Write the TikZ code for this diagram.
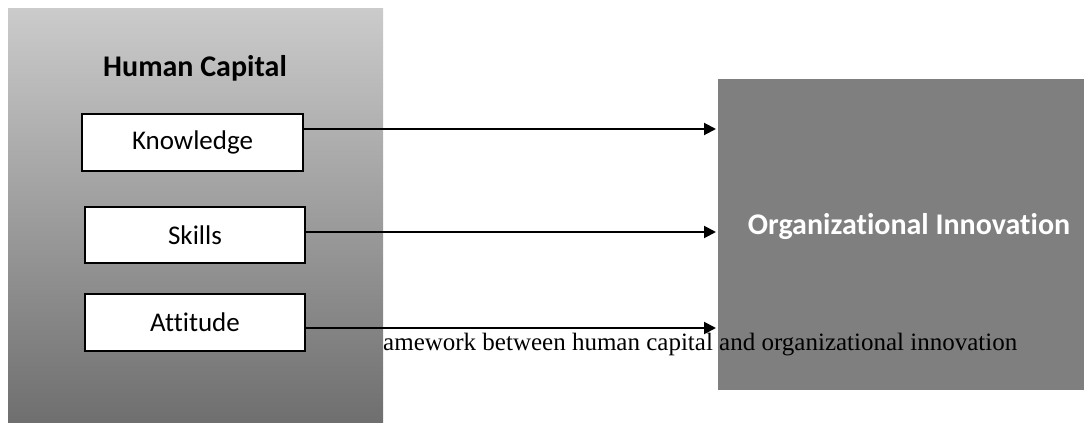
\documentclass[tikz,border=0pt]{standalone}
\usepackage{fontspec}
\setmainfont[Ligatures={NoCommon}]{Carlito}
\newfontfamily\capfont{Liberation Serif}
\usetikzlibrary{arrows.meta}
\definecolor{topgray}{HTML}{CBCBCB}
\definecolor{botgray}{HTML}{6F6F6F}
\definecolor{boxgray}{HTML}{7F7F7F}
\tikzset{
  itembox/.style={draw=black, line width=2pt, fill=white, inner sep=0pt, font=\fontsize{27}{32}\selectfont},
  link/.style={line width=2pt, -{Triangle[length=12pt,width=12pt]}},
}
\begin{document}
\begin{tikzpicture}[x=1pt,y=-1pt]
\useasboundingbox (0,0) rectangle (1088,423);
\shade[top color=topgray, bottom color=botgray] (8,8) rectangle (383,422);
\node (title) at (195,68) {\fontsize{30}{36}\selectfont\bfseries Human Capital};
\node[itembox, minimum width=221pt, minimum height=57pt] (know) at (192.5,142.5) {Knowledge};
\node[itembox, minimum width=220pt, minimum height=56pt] (skills) at (195,235) {Skills};
\node[itembox, minimum width=220pt, minimum height=57pt] (att) at (195,322.5) {Attitude};
\node[fill=boxgray, minimum width=366pt, minimum height=311pt, inner sep=0pt] (org) at (901,234.5) {};
\node[text=white, font=\fontsize{30}{36}\selectfont\bfseries] (orgt) at (909,227) {Organizational Innovation};
\coordinate (k2) at (716,129);
\coordinate (s2) at (716,232);
\coordinate (a2) at (716,328);
\draw[link] (know.east |- k2) -- (k2);
\draw[link] (skills.east |- s2) -- (s2);
\draw[link] (att.east |- a2) -- (a2);
\node[anchor=base west, inner sep=0pt, font=\capfont\fontsize{25}{30}\selectfont] (cap) at (383,350) {amework between human capital and organizational innovation};
\end{tikzpicture}
\end{document}
